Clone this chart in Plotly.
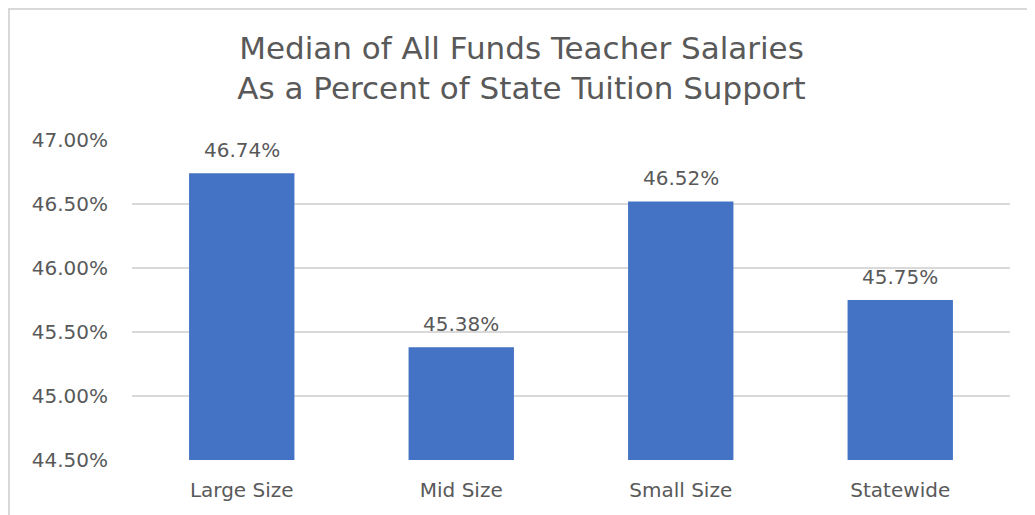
import plotly.graph_objects as go

categories = ["Large Size", "Mid Size", "Small Size", "Statewide"]
values = [46.74, 45.38, 46.52, 45.75]
tick_vals = [44.5, 45.0, 45.5, 46.0, 46.5, 47.0]

BAR_COLOR = "#4472C4"
TEXT_GRAY = "#595959"
GRID = "#d9d9d9"
FONT = "DejaVu Sans"

fig = go.Figure(
    go.Bar(
        x=categories,
        y=values,
        marker=dict(color=BAR_COLOR, line_width=0),
        width=0.48,
        hovertemplate="%{x}: %{y:.2f}%<extra></extra>",
    )
)

# data labels above each bar
for cat, val in zip(categories, values):
    fig.add_annotation(
        x=cat, y=val, text=f"{val:.2f}%",
        showarrow=False, yanchor="bottom", yshift=9,
        font=dict(family=FONT, size=20, color=TEXT_GRAY),
    )

fig.update_layout(
    width=1027,
    height=507,
    margin=dict(l=124, r=25, t=132, b=55),
    paper_bgcolor="white",
    plot_bgcolor="white",
    showlegend=False,
    title=dict(
        text="Median of All Funds Teacher Salaries<br>As a Percent of State Tuition Support",
        x=0.5,
        xanchor="center",
        y=0.9,
        yanchor="middle",
        font=dict(family=FONT, size=31, color=TEXT_GRAY),
    ),
    xaxis=dict(
        showgrid=False,
        showline=False,
        ticks="outside",
        ticklen=12,
        tickcolor="rgba(0,0,0,0)",
        tickfont=dict(family=FONT, size=20, color=TEXT_GRAY),
    ),
    yaxis=dict(
        range=[44.5, 47.0],
        tickvals=tick_vals,
        ticktext=[f"{t:.2f}%" for t in tick_vals],
        showgrid=True,
        gridcolor=GRID,
        gridwidth=1.5,
        zeroline=False,
        showline=False,
        ticks="outside",
        ticklen=19,
        tickcolor="rgba(0,0,0,0)",
        tickfont=dict(family=FONT, size=20, color=TEXT_GRAY),
    ),
    shapes=[
        dict(type="rect", xref="paper", yref="paper",
             x0=-0.1401, x1=1.2, y0=-0.3, y1=1.409,
             line=dict(color=GRID, width=2), layer="below"),
    ],
)

fig.write_html("out.html")
